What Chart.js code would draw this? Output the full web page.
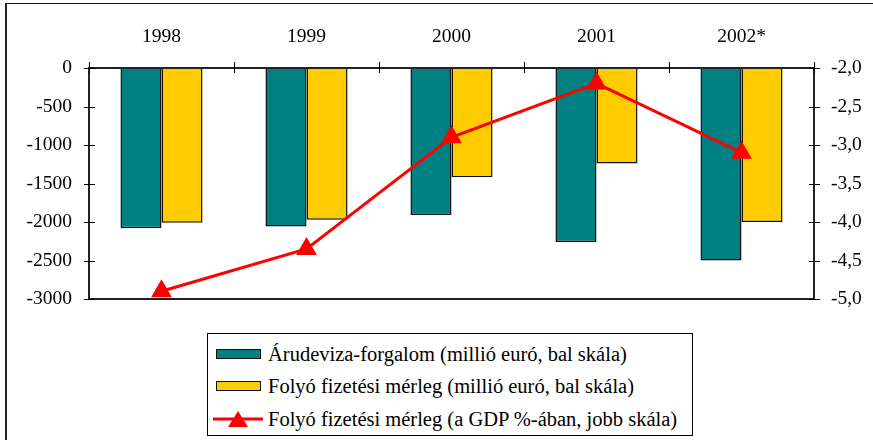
<!DOCTYPE html>
<html>
<head>
<meta charset="utf-8">
<script src="https://cdn.jsdelivr.net/npm/chart.js@4.4.1/dist/chart.umd.min.js"></script>
<style>
  body { margin: 0; background: #fff; }
  #wrap { position: relative; width: 873px; height: 440px; overflow: hidden; font-family: "Liberation Serif", "Times New Roman", serif; }
  #frame { position: absolute; left: 5px; top: 3px; width: 1000px; height: 1000px; border-top: 1.5px solid #111; border-left: 2px solid #222; }
  #chartBox { position: absolute; left: 0; top: 0; width: 873px; height: 440px; }
  #legend { position: absolute; left: 207px; top: 333px; width: 484px; height: 101px; border: 1px solid #000; background: #fff; }
  .lg-item { position: absolute; left: 0; height: 22px; width: 480px; }
  .lg-swatch { position: absolute; left: 8px; top: 6px; width: 43px; height: 8px; border: 1.5px solid #111; }
  .lg-line { position: absolute; left: 5px; top: 0; }
  .lg-text { position: absolute; left: 60px; top: 0; font-size: 20.5px; line-height: 22px; color: #000; white-space: nowrap; }
</style>
</head>
<body>
<div id="wrap">
  <div id="frame"></div>
  <div id="chartBox"><canvas id="balanceChart"></canvas></div>
  <div id="legend"></div>
</div>
<script>
// ===== DATA =====
const years = ['1998', '1999', '2000', '2001', '2002*'];
const tradeBalance = [-2080, -2060, -1910, -2260, -2500];     // millió euró, bal skála
const currentAccount = [-2010, -1970, -1420, -1240, -2000];   // millió euró, bal skála
const currentAccountGdp = [-4.9, -4.35, -2.9, -2.2, -3.1];    // GDP %, jobb skála

const seriesLabels = [
  'Árudeviza-forgalom (millió euró, bal skála)',
  'Folyó fizetési mérleg (millió euró, bal skála)',
  'Folyó fizetési mérleg (a GDP %-ában, jobb skála)'
];

const FONT = { family: '"Liberation Serif", "Times New Roman", serif', size: 19.5 };

// crossing tick marks + plot frame, Excel style
const frameTicks = {
  id: 'frameTicks',
  afterDraw(chart) {
    const { ctx, chartArea: a, scales } = chart;
    ctx.save();
    ctx.strokeStyle = '#222';
    ctx.lineWidth = 2;
    ctx.strokeRect(a.left, a.top, a.right - a.left, a.bottom - a.top);

    ctx.lineWidth = 1;
    ctx.strokeStyle = '#000';
    ctx.beginPath();
    scales.y.ticks.forEach(t => {
      const y = Math.round(scales.y.getPixelForValue(t.value)) + 0.5;
      ctx.moveTo(a.left - 5, y); ctx.lineTo(a.left + 6, y);
    });
    scales.yR.ticks.forEach(t => {
      const y = Math.round(scales.yR.getPixelForValue(t.value)) + 0.5;
      ctx.moveTo(a.right - 5, y); ctx.lineTo(a.right + 6, y);
    });
    const step = scales.x.getPixelForValue(1) - scales.x.getPixelForValue(0);
    for (let i = 0; i <= years.length; i++) {
      const x = Math.round(scales.x.getPixelForValue(i) - step / 2) + 0.5;
      ctx.moveTo(x, a.top - 6); ctx.lineTo(x, a.top + 5);
    }
    ctx.stroke();
    ctx.restore();
  }
};

const chart = new Chart(document.getElementById('balanceChart'), {
  data: {
    labels: years,
    datasets: [
      {
        type: 'line',
        label: seriesLabels[2],
        data: currentAccountGdp,
        yAxisID: 'yR',
        borderColor: '#ff0000',
        borderWidth: 3,
        tension: 0,
        pointStyle: 'triangle',
        pointRadius: 12,
        pointBackgroundColor: '#ff0000',
        pointBorderColor: '#ff0000',
        pointBorderWidth: 0,
        order: 0
      },
      {
        type: 'bar',
        label: seriesLabels[0],
        data: tradeBalance,
        yAxisID: 'y',
        backgroundColor: '#008080',
        borderColor: '#111',
        borderWidth: 1.5,
        barPercentage: 1,
        categoryPercentage: 0.566,
        order: 1
      },
      {
        type: 'bar',
        label: seriesLabels[1],
        data: currentAccount,
        yAxisID: 'y',
        backgroundColor: '#ffcc00',
        borderColor: '#111',
        borderWidth: 1.5,
        barPercentage: 1,
        categoryPercentage: 0.566,
        order: 2
      }
    ]
  },
  options: {
    responsive: true,
    maintainAspectRatio: false,
    animation: false,
    layout: { padding: { top: 0, left: 0, right: 0, bottom: 141 } },
    plugins: {
      legend: { display: false },
      tooltip: { enabled: false }
    },
    scales: {
      x: {
        position: 'top',
        grid: { display: false, drawTicks: false },
        border: { display: false },
        ticks: { color: '#000', font: FONT, padding: 19 },
        afterFit: s => { s.height = 68; }
      },
      y: {
        position: 'left',
        min: -3000, max: 0,
        grid: { display: false, drawTicks: false },
        border: { display: false },
        ticks: { stepSize: 500, color: '#000', font: FONT, padding: 17, callback: v => String(v) },
        afterFit: s => { s.width = 89; }
      },
      yR: {
        position: 'right',
        min: -5, max: -2,
        grid: { display: false, drawTicks: false },
        border: { display: false },
        ticks: {
          stepSize: 0.5, color: '#000', font: FONT, padding: 17,
          callback: v => v.toFixed(1).replace('.', ',')
        },
        afterFit: s => { s.width = 59; }
      }
    }
  },
  plugins: [frameTicks]
});

// ===== HTML LEGEND (boxed, one entry per row) =====
function renderLegend() {
  const box = document.getElementById('legend');
  const rowTops = [9, 41, 74];
  const order = [1, 2, 0];
  box.innerHTML = order.map((di, i) => {
    const ds = chart.data.datasets[di];
    const mark = ds.type === 'bar'
      ? `<div class="lg-swatch" style="background:${ds.backgroundColor}"></div>`
      : `<svg class="lg-line" width="50" height="22"><line x1="0" y1="11" x2="50" y2="11" stroke="${ds.borderColor}" stroke-width="3"/><polygon points="25,3 35,19 15,19" fill="${ds.borderColor}"/></svg>`;
    return `<div class="lg-item" style="top:${rowTops[i]}px">${mark}<div class="lg-text">${ds.label}</div></div>`;
  }).join('');
}
renderLegend();
</script>
</body>
</html>
